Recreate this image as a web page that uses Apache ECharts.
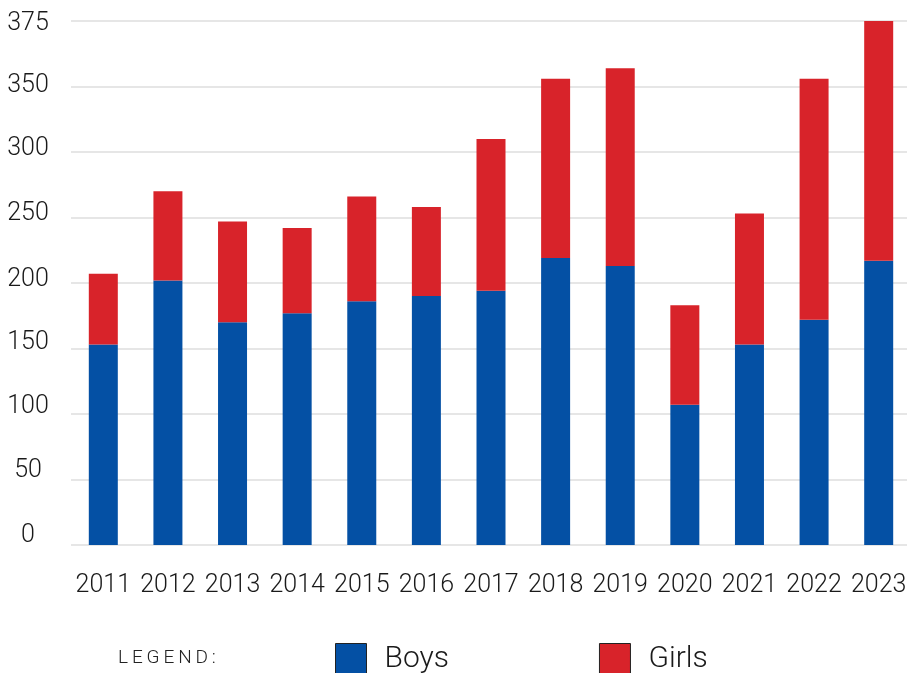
<!DOCTYPE html>
<html>
<head>
<meta charset="utf-8">
<script src="https://cdn.jsdelivr.net/npm/echarts@6/dist/echarts.min.js"></script>
<style>
html,body{margin:0;padding:0;background:#fff;}
#chart{width:907px;height:673px;}
</style>
</head>
<body>
<div id="chart"></div>
<script>
var years = ['2011','2012','2013','2014','2015','2016','2017','2018','2019','2020','2021','2022','2023'];
var boys  = [153, 202, 170, 177, 186, 190, 194, 219, 213, 107, 153, 172, 217];
var girls = [54, 68, 77, 65, 80, 68, 116, 137, 151, 76, 100, 184, 183];
var yTickLabels = ['0','50','100','150','200','250','300','350','375'];
var seriesNames = ['Boys','Girls'];
var legendTitle = 'L\u2009E\u2009G\u2009E\u2009N\u2009D\u2009:';

var FONT = "Roboto, 'Liberation Sans Narrow', sans-serif";
var BLUE = '#0450a4', RED = '#d8232a';
var nudge = [9.5, 8.5, 7, 6, 3.5, 3.5, 3, 1, -3];
var rich = {};
nudge.forEach(function(d, i){
  rich['r'+i] = {
    fontFamily: FONT, fontSize: 25, fontWeight: 300, color: '#1a1a1a',
    padding: d >= 0 ? [0,0,2*d,0] : [-2*d,0,0,0]
  };
});

var chart = echarts.init(document.getElementById('chart'), null, {renderer:'canvas'});
chart.setOption({
  animation: false,
  backgroundColor: '#ffffff',
  grid: {left: 71, width: 840, top: 21, bottom: 128, containLabel: false, outerBoundsMode: 'none'},
  title: {
    text: legendTitle, left: 118, top: 649, padding: 0,
    textStyle: {fontFamily: FONT, fontSize: 19, fontWeight: 300, color: '#222'}
  },
  legend: {
    data: seriesNames, left: 335, top: 643, padding: 0, itemWidth: 31, itemHeight: 31,
    itemGap: 150, icon: 'rect',
    itemStyle: {borderColor: '#222', borderWidth: 1},
    textStyle: {fontFamily: FONT, fontSize: 30, fontWeight: 300, color: '#1a1a1a', padding: [0,0,0,13]}
  },
  xAxis: {
    type: 'category', data: years,
    axisLine: {show: false}, axisTick: {show: false},
    axisLabel: {fontFamily: FONT, fontSize: 25, fontWeight: 300, color: '#1a1a1a', margin: 28, interval: 0}
  },
  yAxis: {
    type: 'value', min: 0, max: 400, interval: 50,
    axisLine: {show: false}, axisTick: {show: false},
    splitLine: {lineStyle: {color: '#e6e6e6', width: 2}},
    axisLabel: {
      align: 'center', margin: 43,
      formatter: function(v, i){ return '{r'+i+'|'+yTickLabels[i]+'}'; },
      rich: rich
    }
  },
  series: [
    {name: seriesNames[0], type: 'bar', stack: 'total', data: boys, barWidth: 29, itemStyle: {color: BLUE}},
    {name: seriesNames[1], type: 'bar', stack: 'total', data: girls, barWidth: 29, itemStyle: {color: RED}}
  ]
});
</script>
</body>
</html>
